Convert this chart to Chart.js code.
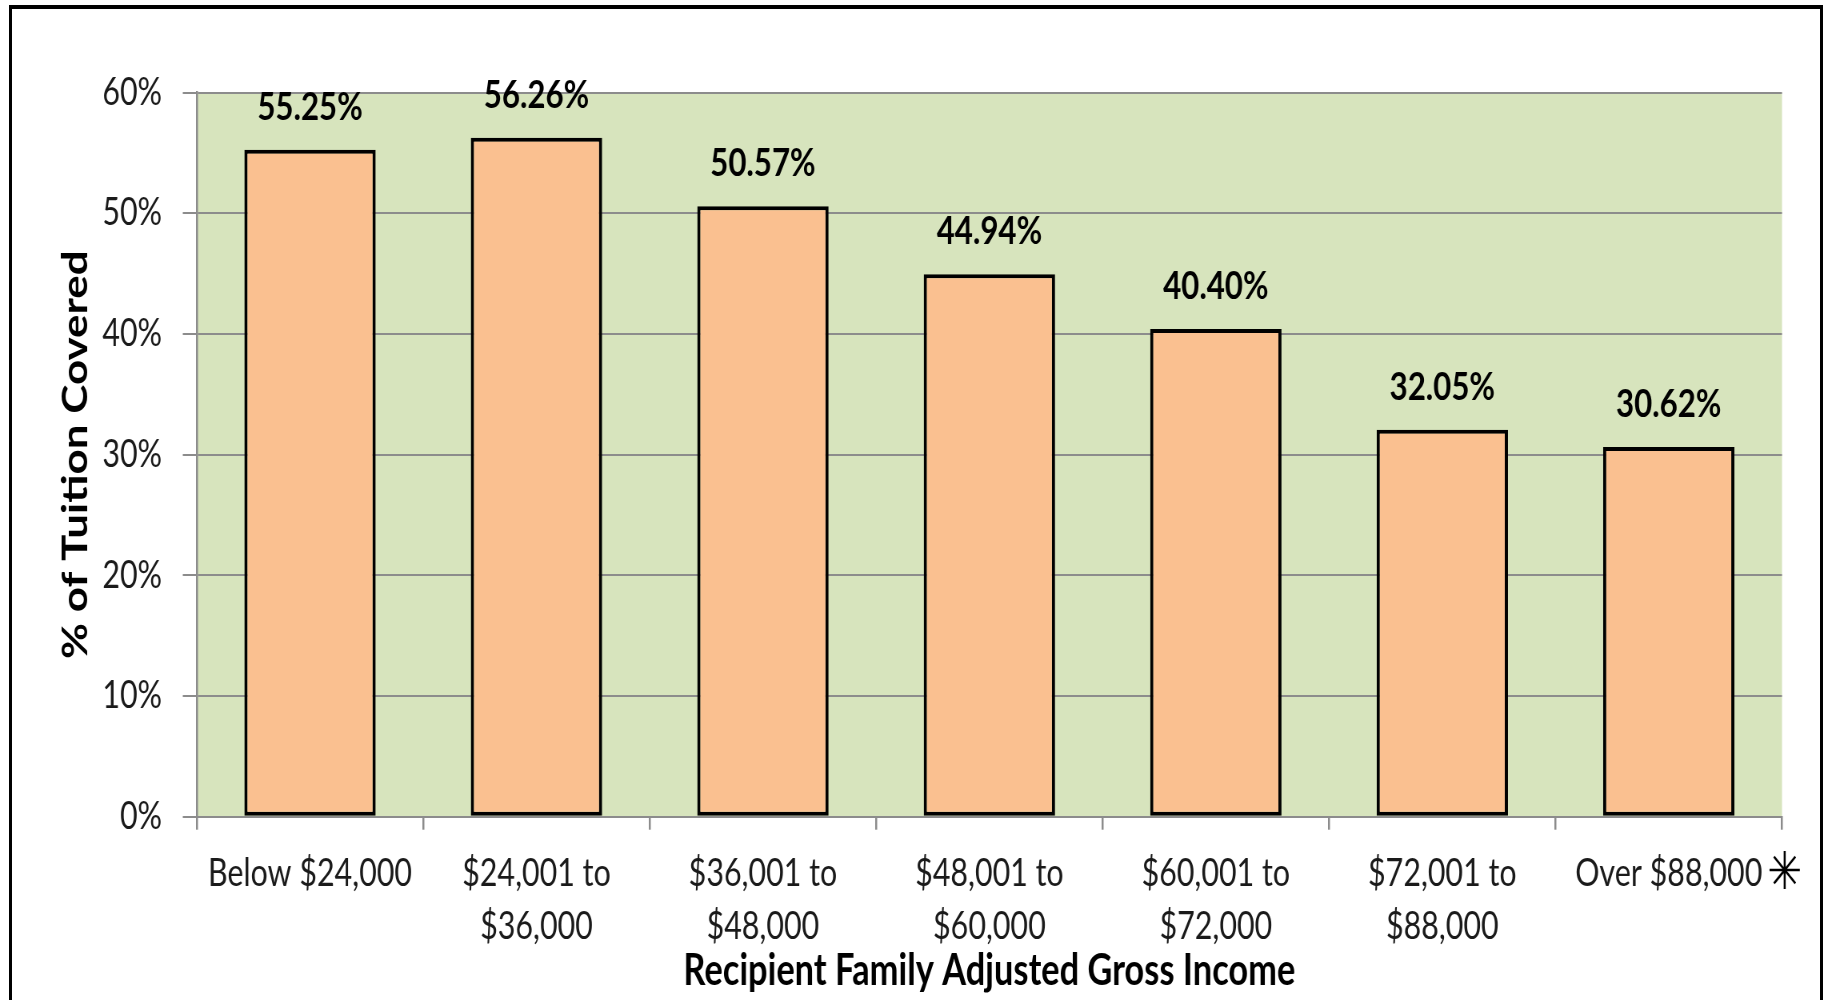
<!DOCTYPE html>
<html>
<head>
<meta charset="utf-8">
<script src="https://cdn.jsdelivr.net/npm/chart.js@4/dist/chart.umd.min.js"></script>
<style>
  html, body { margin: 0; padding: 0; background: #ffffff; overflow: hidden; }
  #frame { position: absolute; left: 9px; top: 5px; width: 1808px; height: 1010px;
           border-left: 3px solid #000; border-top: 4px solid #000; border-right: 3px solid #000;
           pointer-events: none; }
  #wrap { position: absolute; left: 0; top: 0; width: 2283px; height: 1000px;
          transform: scaleX(0.8); transform-origin: 0 0; }
</style>
</head>
<body>
<div id="wrap"><canvas id="c"></canvas></div>
<div id="frame"></div>
<script>
// ---- data ----
const categories = [
  'Below $24,000',
  ['$24,001 to', '$36,000'],
  ['$36,001 to', '$48,000'],
  ['$48,001 to', '$60,000'],
  ['$60,001 to', '$72,000'],
  ['$72,001 to', '$88,000'],
  'Over $88,000'
];
const tuitionCovered = [55.25, 56.26, 50.57, 44.94, 40.40, 32.05, 30.62];
const yTicks = [0, 10, 20, 30, 40, 50, 60];
const yTitle = '% of Tuition Covered';
const xTitle = 'Recipient Family Adjusted Gross Income';
const footnoteMark = '\u2733';

// ---- plugins ----
const plotBg = {
  id: 'plotBg',
  beforeDraw(chart) {
    const a = chart.chartArea, ctx = chart.ctx;
    ctx.save();
    ctx.fillStyle = '#D7E4BD';
    ctx.fillRect(a.left, a.top, a.right - a.left, a.bottom - a.top);
    ctx.restore();
  }
};
const valueLabels = {
  id: 'valueLabels',
  afterDatasetsDraw(chart) {
    const ctx = chart.ctx, meta = chart.getDatasetMeta(0);
    ctx.save();
    ctx.font = 'bold 39px Lato';
    ctx.fillStyle = '#000';
    ctx.textAlign = 'center';
    ctx.textBaseline = 'alphabetic';
    meta.data.forEach((bar, i) => {
      ctx.fillText(tuitionCovered[i].toFixed(2) + '%', bar.x, bar.y - 30);
    });
    ctx.restore();
  }
};
const starMark = {
  id: 'starMark',
  afterDraw(chart) {
    const x = chart.scales.x, ctx = chart.ctx;
    const last = categories.length - 1;
    ctx.save();
    ctx.font = '38px Lato';
    const w = ctx.measureText(categories[last]).width;
    const cx = x.getPixelForTick(last);
    const y = x.top + 13 + 17.7 + 26.3 + 2;
    ctx.font = '52px "DejaVu Sans"';
    ctx.fillStyle = '#000';
    ctx.textAlign = 'left';
    ctx.textBaseline = 'middle';
    ctx.fillText(footnoteMark, cx + w / 2 + 6, y);
    ctx.restore();
  }
};

const gray = '#8C8C8C';
new Chart(document.getElementById('c'), {
  type: 'bar',
  data: {
    labels: categories,
    datasets: [{
      data: tuitionCovered,
      backgroundColor: '#FAC090',
      borderColor: '#000000',
      borderWidth: 4,
      borderSkipped: false,
      categoryPercentage: 1.0,
      barPercentage: 0.58
    }]
  },
  options: {
    responsive: true,
    maintainAspectRatio: false,
    animation: false,
    devicePixelRatio: 1,
    layout: { padding: { top: 92.5, right: 55.5, bottom: 0, left: 0 } },
    plugins: { legend: { display: false }, tooltip: { enabled: false } },
    scales: {
      x: {
        grid: { display: true, drawOnChartArea: false, drawTicks: true, tickLength: 13, color: gray, lineWidth: 2.5, offset: true },
        border: { display: true, color: gray, width: 2 },
        ticks: {
          color: '#1a1a1a', font: { family: 'Lato', size: 38, lineHeight: 1.385 },
          padding: 17.7, maxRotation: 0, minRotation: 0, autoSkip: false
        },
        title: {
          display: true, text: xTitle, color: '#000',
          font: { family: 'Lato', size: 43, weight: 'bold', lineHeight: 1.2 },
          padding: { top: 0, bottom: 3 }
        },
        afterFit(s) { s.height = 1000 - 816.7; }
      },
      y: {
        min: 0, max: 60,
        afterBuildTicks(s) { s.ticks = yTicks.map(v => ({ value: v })); },
        grid: { color: gray, lineWidth: 2, tickLength: 17.5, drawTicks: true },
        border: { display: true, color: gray, width: 2.5 },
        ticks: {
          color: '#1a1a1a', font: { family: 'Lato', size: 38 }, padding: 26,
          callback: v => v + '%'
        },
        title: {
          display: true, text: yTitle, color: '#000',
          font: { family: 'Lato', size: 44, weight: 'bold', lineHeight: 1.2 },
          padding: { top: 68, bottom: 0 }
        },
        afterFit(s) { s.width = 246; }
      }
    }
  },
  plugins: [plotBg, valueLabels, starMark]
});
</script>
</body>
</html>
